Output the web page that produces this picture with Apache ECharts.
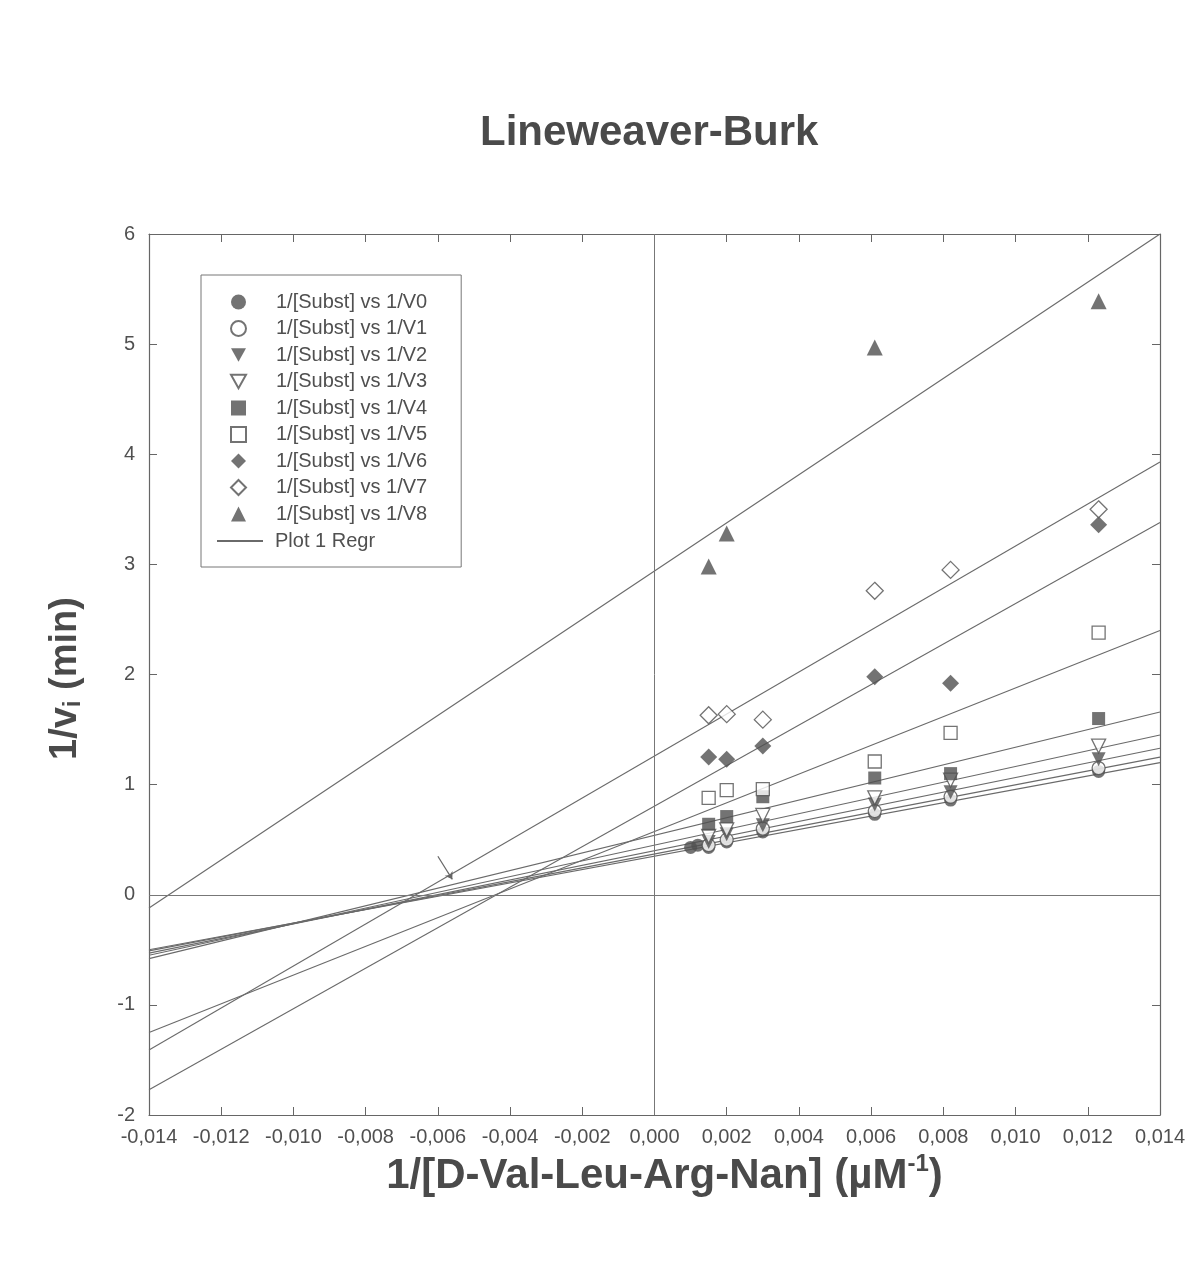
<!DOCTYPE html>
<html><head><meta charset="utf-8">
<script src="https://cdn.jsdelivr.net/npm/echarts@6/dist/echarts.min.js"></script>
<style>html,body{margin:0;background:#fff}#c{width:1200px;height:1272px}</style>
</head><body><div id="c"></div>
<script>
// x values: 1/[substrate] (µM^-1)
const invS = [0.0015, 0.0020, 0.0030, 0.0061, 0.0082, 0.0123];
const v0X = [0.0010, 0.0012, 0.0015, 0.0020, 0.0030, 0.0061, 0.0082, 0.0123];
const v8X = [0.0015, 0.0020, 0.0061, 0.0123];
// y values: 1/v (min)
const V0 = [0.43, 0.45, 0.43, 0.48, 0.57, 0.73, 0.86, 1.12];
const V1 = [0.45, 0.50, 0.60, 0.76, 0.89, 1.15];
const V2 = [0.48, 0.55, 0.63, 0.82, 0.93, 1.23];
const V3 = [0.53, 0.59, 0.72, 0.88, 1.04, 1.35];
const V4 = [0.64, 0.71, 0.89, 1.06, 1.10, 1.60];
const V5 = [0.88, 0.95, 0.96, 1.21, 1.47, 2.38];
const V6 = [1.25, 1.23, 1.35, 1.98, 1.92, 3.36];
const V7 = [1.63, 1.64, 1.59, 2.76, 2.95, 3.50];
const V8 = [2.98, 3.28, 4.97, 5.39];
// regression line end values at x = -0.014 and x = 0.014
const regrX = [-0.014, 0.014];
const regrV0 = [-0.50, 1.20];
const regrV1 = [-0.51, 1.25];
const regrV2 = [-0.53, 1.33];
const regrV3 = [-0.55, 1.45];
const regrV4 = [-0.58, 1.66];
const regrV5 = [-1.25, 2.40];
const regrV6 = [-1.77, 3.38];
const regrV7 = [-1.41, 3.93];
const regrV8 = [-0.12, 6.00];
// axis ranges / tick steps
const xTicks = [-0.014, 0.014, 0.002];
const yTicks = [-2, 6, 1];
const arrowPts = [[-0.0060, 0.35], [-0.0056, 0.14]];

const names = ['1/[Subst] vs 1/V0','1/[Subst] vs 1/V1','1/[Subst] vs 1/V2','1/[Subst] vs 1/V3',
  '1/[Subst] vs 1/V4','1/[Subst] vs 1/V5','1/[Subst] vs 1/V6','1/[Subst] vs 1/V7','1/[Subst] vs 1/V8'];
const xs = [v0X, invS, invS, invS, invS, invS, invS, invS, v8X];
const ys = [V0, V1, V2, V3, V4, V5, V6, V7, V8];
const regrs = [regrV0, regrV1, regrV2, regrV3, regrV4, regrV5, regrV6, regrV7, regrV8];
const DOWN = 'path://M0,0 L10,0 L5,9 Z';
const syms = ['circle','circle',DOWN,DOWN,'rect','rect','diamond','diamond','triangle'];
const filled = [true,false,true,false,true,false,true,false,true];
const sizes = [13,13,14,14,13,13,17,17,16];
const INK = '#505050';
const FONT = 'Liberation Sans, Arial, sans-serif';

const series = [];
names.forEach((n, i) => {
  series.push({
    name: n, type: 'scatter', symbol: syms[i], symbolSize: sizes[i], z: 5,
    itemStyle: filled[i] ? {color: INK, borderColor: INK, borderWidth: 0}
                         : {color: '#ffffff', borderColor: INK, borderWidth: 1.3},
    data: xs[i].map((x, k) => [x, ys[i][k]])
  });
});
regrs.forEach((r, i) => {
  const s = {
    name: 'Plot 1 Regr', type: 'line', symbol: 'none', showSymbol: false, z: 3,
    lineStyle: {color: '#6a6a6a', width: 1.1}, itemStyle: {color: '#6a6a6a'},
    data: regrX.map((x, k) => [x, r[k]])
  };
  if (i === 0) {
    s.markLine = {
      silent: true, symbol: 'none', label: {show: false},
      lineStyle: {color: '#777', width: 1, type: 'solid'},
      data: [{xAxis: 0}, {yAxis: 0}]
    };
  }
  if (i === 1) {
    s.markLine = {
      silent: true, symbol: ['none', 'arrow'], symbolSize: 7, label: {show: false},
      lineStyle: {color: '#666', width: 1.2, type: 'solid'},
      data: [[{coord: arrowPts[0]}, {coord: arrowPts[1]}]]
    };
  }
  series.push(s);
});

const fmtX = v => (Math.abs(v) < 1e-9 ? 0 : v).toFixed(3).replace('.', ',');
const axisCommon = () => ({
  axisLine: {show: true, onZero: false, lineStyle: {color: '#666', width: 1.2}},
  axisTick: {show: true, inside: true, length: 8, lineStyle: {color: '#666'}},
  splitLine: {show: false}
});
const legendText = {fontFamily: FONT, fontSize: 20, color: INK, lineHeight: 20};

const chart = echarts.init(document.getElementById('c'), null, {renderer: 'canvas'});
chart.setOption({
  backgroundColor: '#ffffff',
  animation: false,
  title: {
    text: 'Lineweaver-Burk', left: 475, top: 107,
    textStyle: {fontFamily: FONT, fontSize: 42, fontWeight: 'bold', color: '#4a4a4a'}
  },
  grid: {left: 149, right: 40, top: 234, bottom: 157},
  legend: [{
    orient: 'vertical', left: 201, top: 275,
    padding: [17, 34, 43, 29], itemGap: 6.5, itemWidth: 15, itemHeight: 15,
    backgroundColor: '#fff', borderColor: '#777', borderWidth: 1,
    data: names,
    textStyle: Object.assign({padding: [0, 0, 0, 25]}, legendText)
  }, {
    orient: 'vertical', left: 217, top: 531, padding: 0,
    itemWidth: 46, itemHeight: 2, icon: 'rect',
    data: ['Plot 1 Regr'],
    textStyle: Object.assign({padding: [0, 0, 0, 7]}, legendText)
  }],
  xAxis: [
    Object.assign(axisCommon(), {
      type: 'value', position: 'bottom', min: xTicks[0], max: xTicks[1], interval: xTicks[2],
      axisLabel: {formatter: fmtX, fontFamily: FONT, fontSize: 20, color: INK, margin: 12},
      name: '{a|1/[D-Val-Leu-Arg-Nan] (µM}{s|-1}{a|)}', nameLocation: 'middle', nameGap: 32,
      nameTextStyle: {fontFamily: FONT, color: '#4a4a4a', padding: [0, 0, 0, 20], rich: {
        a: {fontFamily: FONT, fontSize: 42, fontWeight: 'bold', color: '#4a4a4a', lineHeight: 46, verticalAlign: 'bottom'},
        s: {fontFamily: FONT, fontSize: 24, fontWeight: 'bold', color: '#4a4a4a', lineHeight: 46, verticalAlign: 'top', padding: [0, 0, 16, 0]}
      }}
    }),
    Object.assign(axisCommon(), {
      type: 'value', position: 'top', min: xTicks[0], max: xTicks[1], interval: xTicks[2],
      axisLabel: {show: false}
    })
  ],
  yAxis: [
    Object.assign(axisCommon(), {
      type: 'value', position: 'left', min: yTicks[0], max: yTicks[1], interval: yTicks[2],
      axisLabel: {fontFamily: FONT, fontSize: 20, color: INK, margin: 14},
      name: '{a|1/v}{s|i}{a| (min)}', nameLocation: 'middle', nameGap: 64, nameRotate: 90,
      nameTextStyle: {fontFamily: FONT, color: '#4a4a4a', padding: [0, 8, 0, 0], rich: {
        a: {fontFamily: FONT, fontSize: 38, fontWeight: 'bold', color: '#4a4a4a', lineHeight: 44, verticalAlign: 'bottom'},
        s: {fontFamily: FONT, fontSize: 24, fontWeight: 'bold', color: '#4a4a4a', lineHeight: 44, verticalAlign: 'bottom', padding: [16, 0, 0, 0]}
      }}
    }),
    Object.assign(axisCommon(), {
      type: 'value', position: 'right', min: yTicks[0], max: yTicks[1], interval: yTicks[2],
      axisLabel: {show: false}
    })
  ],
  series: series
});
</script>
</body></html>
